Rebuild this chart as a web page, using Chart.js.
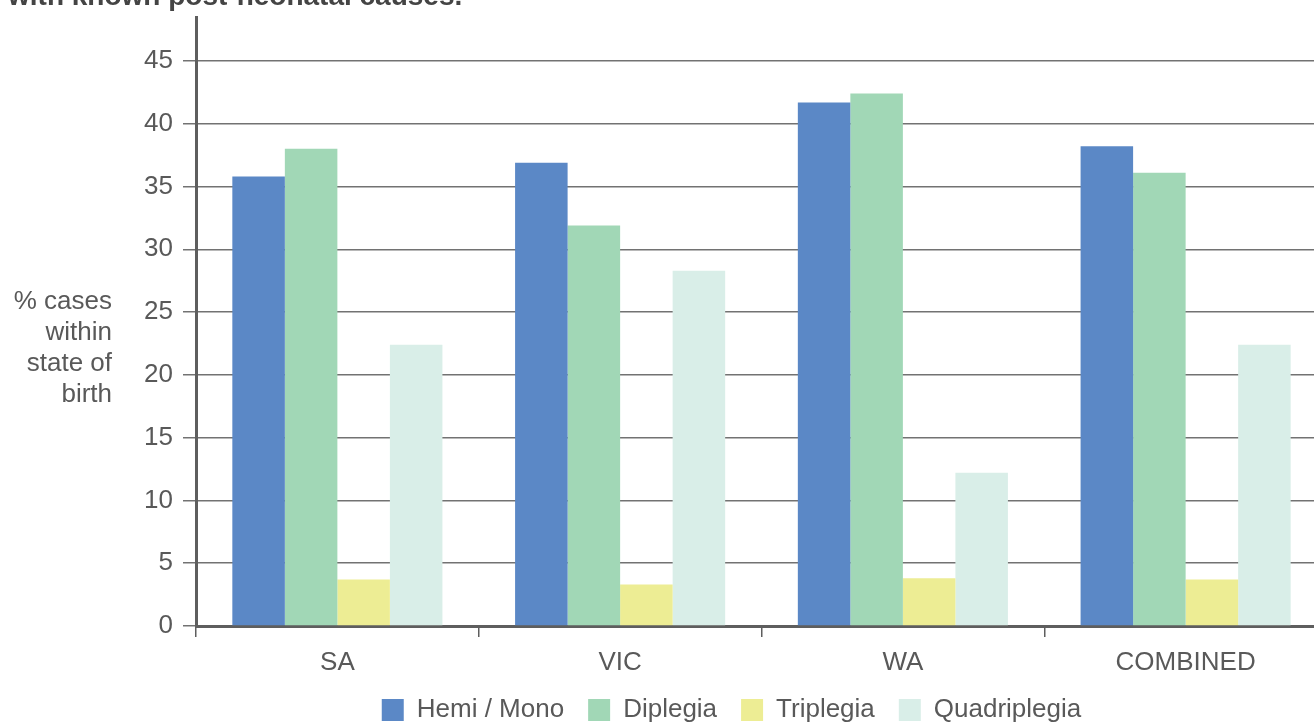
<!DOCTYPE html>
<html>
<head>
<meta charset="utf-8">
<script src="https://cdn.jsdelivr.net/npm/chart.js@4.4.1/dist/chart.umd.min.js"></script>
<style>
  html, body { margin: 0; padding: 0; background: #fff; overflow: hidden; }
  #wrap { position: absolute; left: 0; top: 0; width: 1340px; height: 740px; }
</style>
</head>
<body>
<div id="wrap"><canvas id="cpChart"></canvas></div>
<script>
const states = ["SA", "VIC", "WA", "COMBINED"];
const hemiMono = [35.8, 36.9, 41.7, 38.2];
const diplegia = [38.0, 31.9, 42.4, 36.1];
const triplegia = [3.7, 3.3, 3.8, 3.7];
const quadriplegia = [22.4, 28.3, 12.2, 22.4];
const yCaption = ["% cases", "within", "state of", "birth"];
const heading = "with known post-neonatal causes.";

const textGrey = "#595959";
const axisGrey = "#5e5e5e";
const fontFamily = "'Liberation Sans', Arial, sans-serif";

// heading above the plot and the horizontal caption left of the y ticks
const extraText = {
    id: "extraText",
    afterLayout(chart) {
        // legend sits a little right of the canvas centre
        if (chart.legend) {
            chart.legend.left += 68;
            chart.legend.right += 68;
        }
    },
    afterDraw(chart) {
        const { ctx, chartArea } = chart;
        ctx.save();
        ctx.fillStyle = "#444";
        ctx.font = "bold 28px " + fontFamily;
        ctx.textAlign = "left";
        ctx.textBaseline = "alphabetic";
        ctx.fillText(heading, 8, 5);

        ctx.fillStyle = textGrey;
        ctx.font = "26px " + fontFamily;
        ctx.textAlign = "right";
        ctx.textBaseline = "middle";
        yCaption.forEach((line, i) => {
            ctx.fillText(line, chartArea.left - 84, chartArea.top + 285 + i * 31);
        });
        ctx.restore();
    }
};

const ctx = document.getElementById("cpChart").getContext("2d");
new Chart(ctx, {
    type: "bar",
    data: {
        labels: states,
        datasets: [
            { label: "Hemi / Mono", data: hemiMono, backgroundColor: "#5b88c6" },
            { label: "Diplegia", data: diplegia, backgroundColor: "#a1d7b6" },
            { label: "Triplegia", data: triplegia, backgroundColor: "#eded94" },
            { label: "Quadriplegia", data: quadriplegia, backgroundColor: "#d9eee8" }
        ]
    },
    options: {
        responsive: true,
        maintainAspectRatio: false,
        animation: false,
        layout: { padding: { top: 17, right: 13, left: 0, bottom: 7 } },
        datasets: {
            bar: { categoryPercentage: 0.743, barPercentage: 1.0 }
        },
        scales: {
            x: {
                grid: {
                    offset: true,
                    drawOnChartArea: false,
                    drawTicks: true,
                    tickLength: 11,
                    color: axisGrey,
                    lineWidth: 1.5
                },
                border: { display: true, color: axisGrey, width: 3 },
                ticks: {
                    color: textGrey,
                    font: { family: fontFamily, size: 26 },
                    padding: 10,
                    maxRotation: 0
                },
                afterFit(scale) {
                    scale.height = 47;
                    scale.paddingLeft = 0;
                    scale.paddingRight = 0;
                }
            },
            y: {
                min: 0,
                max: 48.5,
                afterBuildTicks(scale) {
                    scale.ticks = scale.ticks.filter(t => t.value % 5 === 0);
                },
                grid: {
                    color: "#727272",
                    lineWidth: 1.5,
                    drawTicks: true,
                    tickLength: 13
                },
                border: { display: true, color: axisGrey, width: 3 },
                ticks: {
                    stepSize: 5,
                    color: textGrey,
                    font: { family: fontFamily, size: 26 },
                    padding: 10
                },
                afterFit(scale) {
                    scale.width = 196;
                    scale.paddingTop = 0;
                    scale.paddingBottom = 0;
                }
            }
        },
        plugins: {
            legend: {
                position: "bottom",
                labels: {
                    color: textGrey,
                    font: { family: fontFamily, size: 26 },
                    boxWidth: 22,
                    boxHeight: 22,
                    padding: 24
                }
            },
            tooltip: { enabled: false }
        }
    },
    plugins: [extraText]
});
</script>
</body>
</html>
